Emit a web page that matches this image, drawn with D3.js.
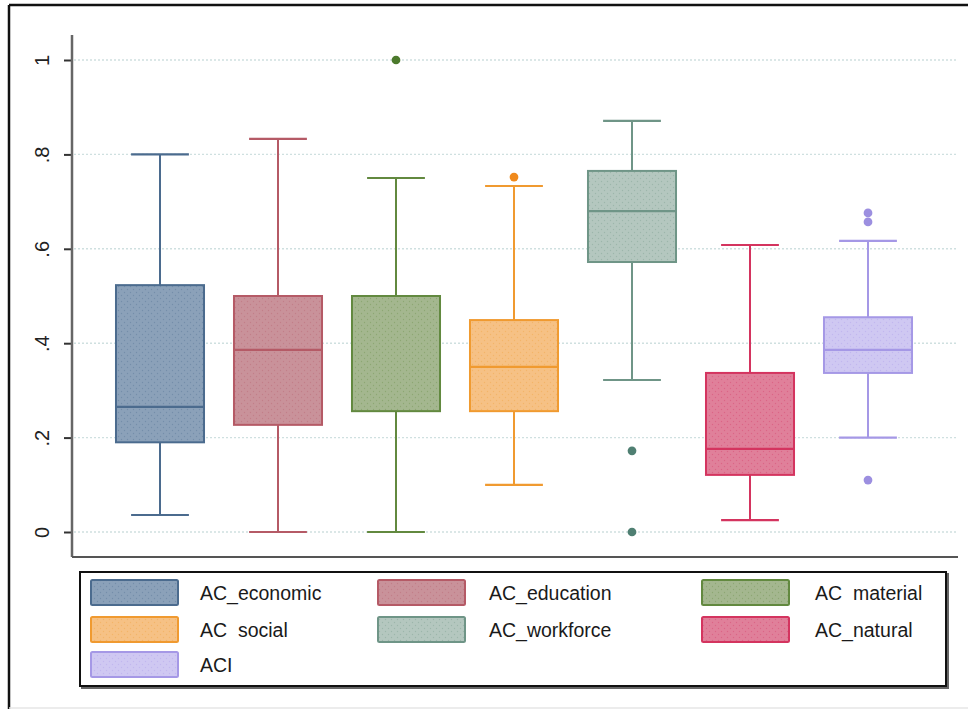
<!DOCTYPE html>
<html>
<head>
<meta charset="utf-8">
<script src="https://cdn.jsdelivr.net/npm/d3@7"></script>
<style>
  html, body { margin: 0; padding: 0; background: #fff; }
  svg { display: block; }
  text { font-family: "Liberation Sans", Arial, sans-serif; }
</style>
</head>
<body>
<svg id="chart" width="968" height="709"></svg>
<script>
// Index components
const names = ["AC_economic", "AC_education", "AC_material", "AC_social", "AC_workforce", "AC_natural", "ACI"];
const legendLabels = ["AC_economic", "AC_education", "AC  material", "AC  social", "AC_workforce", "AC_natural", "ACI"];

// Five-number summaries (lower whisker, Q1, median, Q3, upper whisker)
const whiskerLow  = [0.036, 0.000, 0.000, 0.100, 0.322, 0.025, 0.200];
const q1          = [0.190, 0.227, 0.256, 0.256, 0.572, 0.121, 0.337];
const median      = [0.265, 0.386, 0.500, 0.350, 0.680, 0.176, 0.386];
const q3          = [0.523, 0.500, 0.500, 0.449, 0.765, 0.337, 0.455];
const whiskerHigh = [0.800, 0.833, 0.750, 0.733, 0.871, 0.608, 0.617];

// Outside values per component
const outliers = [[], [], [1.0], [0.752], [0.172, 0.0], [], [0.676, 0.657, 0.110]];

// Y axis ticks
const yTicks = [0, 0.2, 0.4, 0.6, 0.8, 1];
const yTickLabels = ["0", ".2", ".4", ".6", ".8", "1"];

const fills   = ["#8ba1b9", "#c9929a", "#a4b78f", "#f6c185", "#b4c7bf", "#e0809a", "#cfc8f2"];
const strokes = ["#4b6b8e", "#b55a66", "#62893f", "#f09a30", "#6f9587", "#d4345f", "#a598e6"];
const outlierCols = ["#4b6b8e", "#b55a66", "#4c7a2c", "#f08a1c", "#4f7f72", "#d4345f", "#9c8fe0"];

const svg = d3.select("#chart");

// Speckle texture used on the box fills
const defs = svg.append("defs");
names.forEach((n, i) => {
  const p = defs.append("pattern")
    .attr("id", "speck" + i)
    .attr("patternUnits", "userSpaceOnUse")
    .attr("width", 6).attr("height", 6);
  p.append("rect").attr("width", 6).attr("height", 6).attr("fill", fills[i]);
  p.append("circle").attr("cx", 1.5).attr("cy", 1.5).attr("r", 0.7).attr("fill", strokes[i]).attr("opacity", 0.35);
  p.append("circle").attr("cx", 4.5).attr("cy", 4.5).attr("r", 0.7).attr("fill", strokes[i]).attr("opacity", 0.35);
});

// Outer frame
svg.append("line").attr("x1", 9).attr("x2", 9).attr("y1", 5).attr("y2", 709)
  .attr("stroke", "#111").attr("stroke-width", 2.5);
svg.append("line").attr("x1", 9).attr("x2", 968).attr("y1", 5).attr("y2", 5)
  .attr("stroke", "#111").attr("stroke-width", 2.5);
svg.append("line").attr("x1", 9).attr("x2", 968).attr("y1", 708).attr("y2", 708)
  .attr("stroke", "#e6e6e6").attr("stroke-width", 1.5);

const plotLeft = 72, plotRight = 958, plotBottom = 557, plotTop = 35;

const y = d3.scaleLinear().domain([0, 1]).range([532, 60]);
const x = d3.scalePoint().domain(names).range([160, 868]);
const step = x.step();
const boxW = step * 0.746;
const capW = step * 0.49;

// Grid lines
svg.append("g").selectAll("line").data(yTicks).join("line")
  .attr("x1", plotLeft + 2).attr("x2", plotRight)
  .attr("y1", d => y(d)).attr("y2", d => y(d))
  .attr("stroke", "#cfe0e0").attr("stroke-width", 1.4)
  .attr("stroke-dasharray", "2,2");

// Y axis
const yAxis = d3.axisLeft(y).tickValues(yTicks)
  .tickFormat((d, i) => yTickLabels[i]).tickSize(8).tickPadding(0);
const gy = svg.append("g").attr("transform", `translate(${plotLeft},0)`).call(yAxis);
gy.select(".domain").remove();
gy.selectAll(".tick line").attr("stroke", "#333").attr("stroke-width", 2);
gy.selectAll(".tick text")
  .attr("x", 0).attr("y", 0)
  .attr("transform", "translate(-30,0) rotate(-90)")
  .attr("text-anchor", "middle")
  .attr("dy", "0.35em")
  .attr("font-size", 20).attr("fill", "#222");
svg.append("line").attr("x1", plotLeft).attr("x2", plotLeft).attr("y1", plotTop).attr("y2", plotBottom)
  .attr("stroke", "#666").attr("stroke-width", 2.5);
svg.append("line").attr("x1", plotLeft).attr("x2", plotRight).attr("y1", plotBottom).attr("y2", plotBottom)
  .attr("stroke", "#555").attr("stroke-width", 2);

// Boxes
const boxes = svg.append("g").selectAll("g").data(names).join("g");
boxes.each(function(n, i) {
  const g = d3.select(this);
  const cx = x(n);
  // whiskers
  g.append("line").attr("x1", cx).attr("x2", cx).attr("y1", y(q3[i])).attr("y2", y(whiskerHigh[i]))
    .attr("stroke", strokes[i]).attr("stroke-width", 2);
  g.append("line").attr("x1", cx).attr("x2", cx).attr("y1", y(q1[i])).attr("y2", y(whiskerLow[i]))
    .attr("stroke", strokes[i]).attr("stroke-width", 2);
  [whiskerHigh[i], whiskerLow[i]].forEach(v => {
    g.append("line").attr("x1", cx - capW / 2).attr("x2", cx + capW / 2)
      .attr("y1", y(v)).attr("y2", y(v))
      .attr("stroke", strokes[i]).attr("stroke-width", 2.2);
  });
  // box
  g.append("rect")
    .attr("x", cx - boxW / 2).attr("width", boxW)
    .attr("y", y(q3[i])).attr("height", y(q1[i]) - y(q3[i]))
    .attr("fill", `url(#speck${i})`)
    .attr("stroke", strokes[i]).attr("stroke-width", 2);
  // median
  g.append("line").attr("x1", cx - boxW / 2).attr("x2", cx + boxW / 2)
    .attr("y1", y(median[i])).attr("y2", y(median[i]))
    .attr("stroke", strokes[i]).attr("stroke-width", 2.2);
  // outside values
  g.selectAll("path.out").data(outliers[i]).join("path")
    .attr("class", "out")
    .attr("transform", d => `translate(${cx},${y(d)})`)
    .attr("d", d3.symbol(d3.symbolCircle, 60))
    .attr("fill", outlierCols[i]);
});

// Legend
const legend = svg.append("g");
legend.append("rect").attr("x", 82).attr("y", 574).attr("width", 866).attr("height", 114)
  .attr("fill", "none").attr("stroke", "#666").attr("stroke-width", 2);
legend.append("rect").attr("x", 80).attr("y", 572).attr("width", 866).attr("height", 114)
  .attr("fill", "#fff").attr("stroke", "#111").attr("stroke-width", 2);

const colSwatch = [91, 378, 702];
const colText = [200, 489, 815];
const rowY = [580, 617, 652];
legendLabels.forEach((lab, i) => {
  const c = i % 3, r = Math.floor(i / 3);
  legend.append("rect")
    .attr("x", colSwatch[c]).attr("y", rowY[r]).attr("width", 87).attr("height", 25)
    .attr("rx", 1.5)
    .attr("fill", `url(#speck${i})`).attr("stroke", strokes[i]).attr("stroke-width", 2);
  legend.append("text")
    .attr("x", colText[c]).attr("y", rowY[r] + 13)
    .attr("dy", "0.35em")
    .attr("font-size", 19.5).attr("fill", "#1a1a1a")
    .style("white-space", "pre")
    .text(lab);
});
</script>
</body>
</html>
